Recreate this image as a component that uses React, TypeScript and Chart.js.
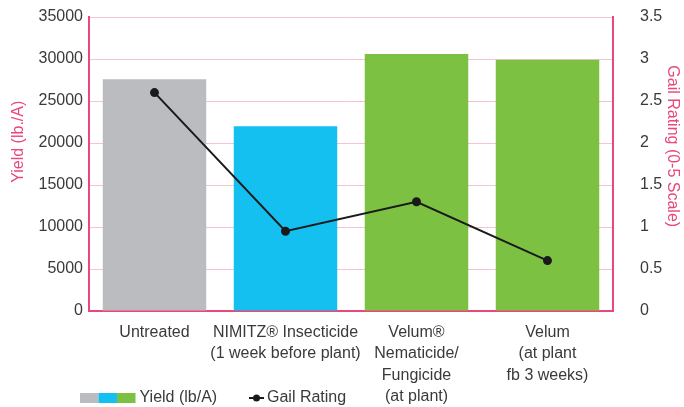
import React, { useEffect, useRef } from "react";
import { Chart, registerables } from "chart.js";

Chart.register(...registerables);

const categories: (string | string[])[] = [
  "Untreated",
  ["NIMITZ® Insecticide", "(1 week before plant)"],
  ["Velum®", "Nematicide/", "Fungicide", "(at plant)"],
  ["Velum", "(at plant", "fb 3 weeks)"],
];
const yieldValues = [27600, 22000, 30600, 29900];
const gallValues = [2.6, 0.95, 1.3, 0.6];
const barColors = ["#BBBCBF", "#13C0F0", "#7DC142", "#7DC142"];
const legendBoxColors = ["#BBBCBF", "#13C0F0", "#7DC142"];

const PINK = "#E8487A";
const GRID = "#F7C3D2";
const TEXT = "#3a3a3a";
const FONT = "'Liberation Sans', Arial, sans-serif";

const legendPlugin = {
  id: "customLegend",
  afterDraw(chart: any) {
    const ctx = chart.ctx;
    const ds = chart.data.datasets;
    ctx.save();
    const y = 398;
    const bw = 18.5;
    let x = 80;
    legendBoxColors.forEach((c) => {
      ctx.fillStyle = c;
      ctx.fillRect(x, y - 5, bw, 10);
      x += bw;
    });
    ctx.font = `16px ${FONT}`;
    ctx.fillStyle = TEXT;
    ctx.textBaseline = "middle";
    ctx.textAlign = "left";
    ctx.fillText(ds[0].label, x + 4, y);
    const lx = 249;
    ctx.strokeStyle = "#1a1a1a";
    ctx.lineWidth = 2;
    ctx.beginPath();
    ctx.moveTo(lx, y);
    ctx.lineTo(lx + 15, y);
    ctx.stroke();
    ctx.fillStyle = "#1a1a1a";
    ctx.beginPath();
    ctx.arc(lx + 7.5, y, 3.5, 0, Math.PI * 2);
    ctx.fill();
    ctx.fillStyle = TEXT;
    ctx.fillText(ds[1].label, lx + 18, y);
    ctx.restore();
  },
};

export default function App() {
  const ref = useRef<HTMLCanvasElement>(null);
  useEffect(() => {
    if (!ref.current) return;
    const chart = new Chart(ref.current, {
      type: "bar",
      data: {
        labels: categories as any,
        datasets: [
          {
            type: "bar",
            label: "Yield (lb/A)",
            data: yieldValues,
            backgroundColor: barColors,
            yAxisID: "y",
            order: 2,
            categoryPercentage: 1,
            barPercentage: 0.79,
          },
          {
            type: "line",
            label: "Gail Rating",
            data: gallValues,
            borderColor: "#1a1a1a",
            backgroundColor: "#1a1a1a",
            borderWidth: 2,
            pointRadius: 3.5,
            pointBackgroundColor: "#1a1a1a",
            yAxisID: "y1",
            order: 1,
          } as any,
        ],
      },
      options: {
        responsive: false,
        animation: false,
        layout: { padding: { top: 17, left: 0, right: 0, bottom: 0 } },
        plugins: {
          legend: { display: false },
          tooltip: { enabled: false },
        },
        scales: {
          x: {
            grid: { display: false },
            border: { display: true, color: PINK, width: 2 },
            ticks: {
              color: TEXT,
              font: { family: FONT, size: 16, lineHeight: 1.33 },
              padding: 3,
              maxRotation: 0,
              autoSkip: false,
            },
            afterFit(s: any) {
              s.height = 96;
            },
          },
          y: {
            position: "left",
            min: 0,
            max: 35000,
            ticks: {
              stepSize: 5000,
              color: TEXT,
              font: { family: FONT, size: 16 },
              padding: 6,
              callback: (v: any) => String(v),
            },
            grid: { color: GRID, lineWidth: 1, drawTicks: false },
            border: { display: true, color: PINK, width: 2 },
            title: {
              display: true,
              text: "          Yield (lb./A)",
              color: PINK,
              font: { family: FONT, size: 16 },
              padding: { top: 9, bottom: 0 },
            },
            afterFit(s: any) {
              s.width = 89;
            },
          },
          y1: {
            position: "right",
            min: 0,
            max: 3.5,
            ticks: {
              stepSize: 0.5,
              color: TEXT,
              font: { family: FONT, size: 16 },
              padding: 6,
              callback: (v: any) => String(v),
            },
            grid: {
              display: true,
              drawOnChartArea: false,
              drawTicks: true,
              tickLength: 21,
              tickColor: "rgba(0,0,0,0)",
            },
            border: { display: true, color: PINK, width: 2 },
            title: {
              display: true,
              text: "Gail Rating (0-5 Scale)        ",
              color: PINK,
              font: { family: FONT, size: 16 },
              padding: { top: 2, bottom: 0 },
            },
            afterFit(s: any) {
              s.width = 71;
            },
          },
        },
      },
      plugins: [legendPlugin],
    });
    return () => chart.destroy();
  }, []);
  return (
    <div style={{ position: "absolute", left: 0, top: 0, width: 684, height: 407, background: "#fff" }}>
      <canvas ref={ref} width={684} height={407} />
    </div>
  );
}
